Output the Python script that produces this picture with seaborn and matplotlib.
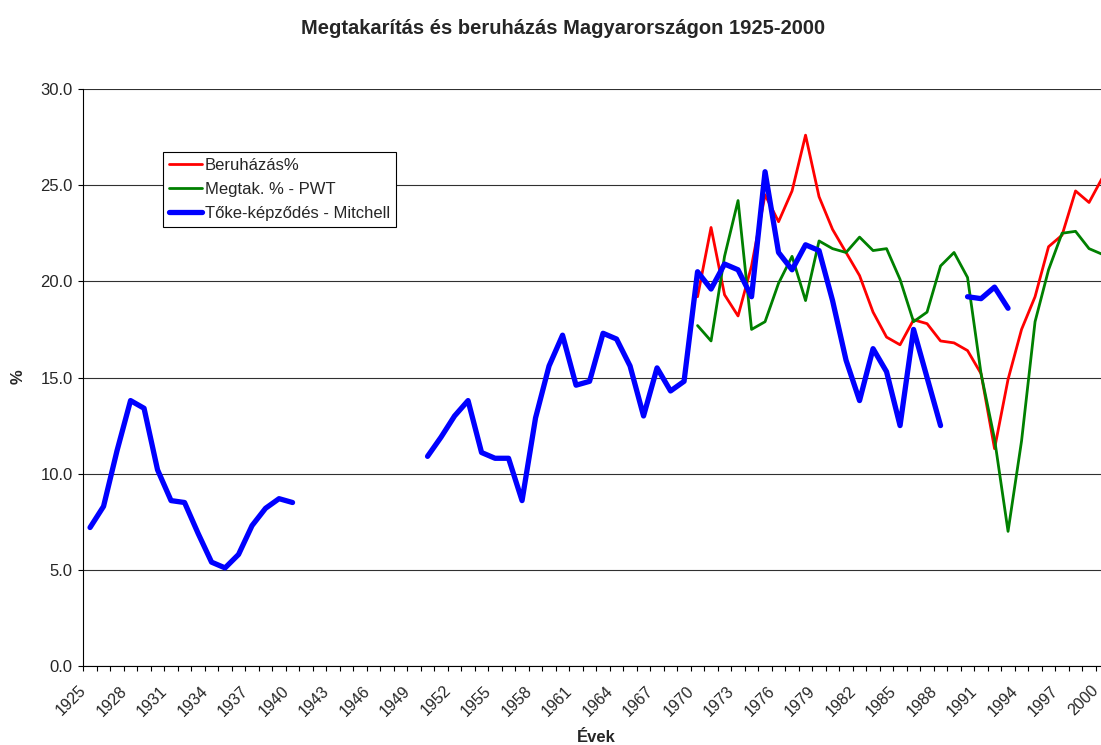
import numpy as np
import pandas as pd
import seaborn as sns
import matplotlib.pyplot as plt
import matplotlib.transforms as mtransforms
from matplotlib.lines import Line2D
from matplotlib.ticker import FormatStrFormatter

nan = np.nan

# category axis: every year 1925-2000
years = list(range(1925, 2001))

# Beruházás % (1970-2000)
beruhazas = [nan] * 45 + [
    19.2, 22.8, 19.3, 18.2, 20.8, 24.5, 23.1, 24.7, 27.6, 24.4,
    22.7, 21.5, 20.3, 18.4, 17.1, 16.7, 18.0, 17.8, 16.9, 16.8,
    16.4, 15.2, 11.3, 14.9, 17.5, 19.2, 21.8, 22.4, 24.7, 24.1,
    25.4,
]

# Megtakarítás % - PWT (1970-2000)
megtak_pwt = [nan] * 45 + [
    17.7, 16.9, 21.3, 24.2, 17.5, 17.9, 19.9, 21.3, 19.0, 22.1,
    21.7, 21.5, 22.3, 21.6, 21.7, 20.1, 17.9, 18.4, 20.8, 21.5,
    20.2, 15.2, 11.8, 7.0, 11.7, 17.9, 20.6, 22.5, 22.6, 21.7,
    21.4,
]

# Tőke-képződés - Mitchell (gaps: 1941-49, 1989, 1994-)
toke_mitchell = [
    7.2, 8.3, 11.2, 13.8, 13.4, 10.2, 8.6, 8.5, 6.9, 5.4,
    5.1, 5.8, 7.3, 8.2, 8.7, 8.5,
] + [nan] * 9 + [
    10.9, 11.9, 13.0, 13.8, 11.1, 10.8, 10.8, 8.6, 12.9, 15.6,
    17.2, 14.6, 14.8, 17.3, 17.0, 15.6, 13.0, 15.5, 14.3, 14.8,
    20.5, 19.6, 20.9, 20.6, 19.2, 25.7, 21.5, 20.6, 21.9, 21.6,
    19.0, 15.9, 13.8, 16.5, 15.3, 12.5, 17.5, 15.0, 12.5,
] + [nan] + [19.2, 19.1, 19.7, 18.6] + [nan] * 7

labels = ['Beruházás%', 'Megtak. % - PWT', 'Tőke-képződés - Mitchell']
values = [beruhazas, megtak_pwt, toke_mitchell]
colors = ['#ff0000', '#008000', '#0000ff']
widths = [2.0, 2.0, 3.8]

frames = []
for name, vals in zip(labels, values):
    s = pd.DataFrame({'year': years, 'value': vals, 'series': name})
    s['seg'] = name + s['value'].isna().cumsum().astype(str)
    frames.append(s.dropna())
df = pd.concat(frames, ignore_index=True)

sns.set_style('white')
plt.rcParams['font.family'] = ['Liberation Sans', 'DejaVu Sans']

W, H = 1101, 745
fig = plt.figure(figsize=(W / 100, H / 100), dpi=100)
# plot area runs slightly past the right edge, as in the cropped original
ax = fig.add_axes([83.3 / W, 79 / H, 1026 / W, 577 / H])

for name, c, lw in zip(labels, colors, widths):
    sns.lineplot(data=df[df['series'] == name], x='year', y='value',
                 units='seg', estimator=None, color=c, linewidth=lw,
                 ax=ax, legend=False)

ax.set_xlim(1924.5, 2000.5)
ax.set_ylim(0, 30)
ax.set_yticks(np.arange(0, 31, 5))
ax.yaxis.set_major_formatter(FormatStrFormatter('%.1f'))
ax.yaxis.grid(True, color='#303030', linewidth=0.8)
ax.xaxis.grid(False)
ax.set_axisbelow(True)

for side in ['top', 'right']:
    ax.spines[side].set_visible(False)
for side in ['left', 'bottom']:
    ax.spines[side].set_color('black')
    ax.spines[side].set_linewidth(0.8)

ax.set_xticks(years[::3])
ax.set_xticklabels([str(y) for y in years[::3]])
ax.set_xticks(np.arange(1924.5, 2001, 1), minor=True)
ax.tick_params(axis='x', which='major', length=0, pad=16, labelsize=11.5)
ax.tick_params(axis='x', which='minor', length=3.6, width=0.8,
               direction='out', color='black', bottom=True)
ax.tick_params(axis='y', length=3.6, width=0.8, direction='out',
               color='black', left=True, labelsize=12, pad=4)

shift = mtransforms.ScaledTranslation(-6 / 100, 0, fig.dpi_scale_trans)
for lab in ax.get_xticklabels():
    lab.set_rotation(45)
    lab.set_ha('right')
    lab.set_va('center')
    lab.set_rotation_mode('anchor')
    lab.set_transform(lab.get_transform() + shift)

ax.set_xlabel('')
ax.set_ylabel('')
fig.text(563 / W, 1 - 28 / H, 'Megtakarítás és beruházás Magyarországon 1925-2000',
         ha='center', va='center', fontsize=14.5, fontweight='bold')
fig.text(596 / W, 1 - 738 / H, 'Évek', ha='center', va='center',
         fontsize=12, fontweight='bold')
fig.text(18 / W, 1 - 377 / H, '%', ha='center', va='center', rotation=90,
         fontsize=12, fontweight='bold')

handles = [Line2D([0], [0], color=c, linewidth=lw) for c, lw in zip(colors, widths)]
leg = ax.legend(handles, labels, loc='upper left',
                bbox_to_anchor=((163 - 83.3) / 1026, (666 - 152) / 577),
                borderaxespad=0, frameon=True, fancybox=False, framealpha=1,
                edgecolor='black', fontsize=12, handlelength=2.0,
                handletextpad=0.15, borderpad=0.35, labelspacing=0.55)
leg.get_frame().set_linewidth(0.8)

fig.savefig('out.png', dpi=100)
